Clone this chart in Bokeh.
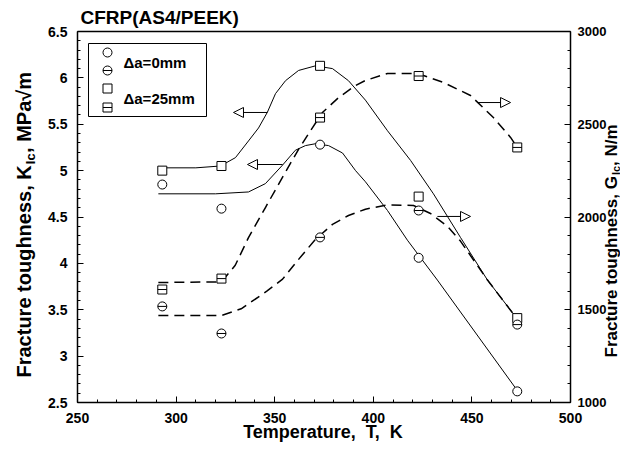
import math
from bokeh.plotting import figure
from bokeh.models import (Range1d, LinearAxis, SingleIntervalTicker, FixedTicker, NumeralTickFormatter,
                          Label, Arrow, NormalHead, BoxAnnotation)
from bokeh.embed import file_html
from bokeh.resources import INLINE

# ---------------- data ----------------
temperature = [293, 323, 373, 423, 473]
kic_0mm = [4.85, 4.59, 5.28, 4.06, 2.62]
kic_25mm = [5.00, 5.05, 6.13, 4.72, 3.41]
gic_0mm = [1518, 1372, 1890, 2035, 1420]
gic_25mm = [1609, 1668, 2536, 2760, 2375]

# fitted curves
kic25_fit_T = [291, 310, 322.5, 330.1, 336.7, 341.8, 346.3, 350.4, 355.5, 362.1, 370.7, 379.3,
               387.4, 396.0, 407.2, 418.9, 430.5, 444.2, 457.9, 473]
kic25_fit_K = [5.03, 5.03, 5.05, 5.14, 5.32, 5.46, 5.63, 5.83, 5.97, 6.08, 6.13, 6.10,
               5.97, 5.76, 5.43, 5.11, 4.75, 4.28, 3.82, 3.40]
kic0_fit_T = [291, 320, 336.7, 345.3, 354.0, 360.5, 365.6, 370.7, 377.3, 384.4, 391.0, 396.0,
              407.2, 417.3, 432.5, 473]
kic0_fit_K = [4.75, 4.75, 4.77, 4.86, 5.06, 5.22, 5.27, 5.29, 5.27, 5.19, 5.00, 4.88,
              4.57, 4.25, 3.82, 2.63]
g25_fit_T = [291, 323, 330, 336.7, 345.3, 354, 362.1, 369.2, 374.2, 382.4, 391, 396, 407.2,
             422.4, 435.6, 449.3, 460.9, 469.6, 473]
g25_fit_G = [1647, 1650, 1740, 1889, 2051, 2215, 2365, 2482, 2563, 2644, 2709, 2736, 2774,
             2774, 2725, 2655, 2536, 2429, 2375]
g0_fit_T = [291, 323, 333, 346, 354, 362, 370.7, 379.3, 387.4, 396, 407.2, 420.4, 429,
            437.6, 444.2, 457.9, 473]
g0_fit_G = [1469, 1469, 1505, 1600, 1665, 1770, 1880, 1960, 2008, 2042, 2065, 2062, 2019,
            1950, 1870, 1660, 1450]

legend_labels = ["\u0394a=0mm", "\u0394a=25mm"]

FONT = "Liberation Sans"
W, H = 620, 443
NB = "\u00a0"

# ---- layout: axes box in canvas pixels (frame covers the whole canvas) ----
T_MIN, T_MAX, K_MIN, K_MAX, G_MIN, G_MAX = 250, 500, 2.5, 6.5, 1000, 3000
BOX_L, BOX_R, BOX_T, BOX_B = 77, 570, 31, 402

def X(px):
    return T_MIN + (px - BOX_L) * (T_MAX - T_MIN) / (BOX_R - BOX_L)

def Y(py):
    return K_MAX - (py - BOX_T) * (K_MAX - K_MIN) / (BOX_B - BOX_T)

def YG(py):
    return G_MAX - (py - BOX_T) * (G_MAX - G_MIN) / (BOX_B - BOX_T)

p = figure(width=W, height=H, title=None, x_axis_type=None, y_axis_type=None,
           x_range=Range1d(X(0), X(W)), y_range=Range1d(Y(H), Y(0)),
           output_backend="svg", toolbar_location=None,
           min_border_left=0, min_border_right=0, min_border_top=0, min_border_bottom=0)
p.extra_y_ranges = {"G": Range1d(YG(H), YG(0))}
p.outline_line_color = None
p.background_fill_color = "white"
p.border_fill_color = "white"

xaxis = LinearAxis(fixed_location=K_MIN, bounds=(T_MIN, T_MAX),
                   ticker=SingleIntervalTicker(interval=50, num_minor_ticks=5))
yaxis = LinearAxis(fixed_location=T_MIN, bounds=(K_MIN, K_MAX),
                   ticker=SingleIntervalTicker(interval=0.5, num_minor_ticks=5),
                   formatter=NumeralTickFormatter(format="0.[0]"))
raxis = LinearAxis(y_range_name="G", fixed_location=T_MAX, bounds=(G_MIN, G_MAX),
                   ticker=SingleIntervalTicker(interval=500, num_minor_ticks=5),
                   formatter=NumeralTickFormatter(format="0"))
taxis = LinearAxis(fixed_location=K_MAX, bounds=(T_MIN, T_MAX), ticker=FixedTicker(ticks=[]))

p.add_layout(xaxis, "below")
p.add_layout(yaxis, "left")
p.add_layout(raxis, "right")
p.add_layout(taxis, "above")

for ax in [xaxis, yaxis, raxis, taxis]:
    ax.major_tick_in = 6
    ax.major_tick_out = 0
    ax.minor_tick_in = 3
    ax.minor_tick_out = 0
    ax.axis_line_width = 1.5
    ax.axis_line_color = "black"
    ax.major_tick_line_color = "black"
    ax.minor_tick_line_color = "black"
    ax.major_label_text_font = FONT
    ax.major_label_text_font_style = "bold"
    ax.major_label_text_font_size = "14px"
    ax.major_label_text_color = "black"
    ax.major_label_standoff = 10
raxis.major_label_standoff = 7
raxis.major_label_text_font_size = "13px"

# ---------------- curves ----------------
p.line(kic25_fit_T, kic25_fit_K, line_color="black", line_width=1)
p.line(kic0_fit_T, kic0_fit_K, line_color="black", line_width=1)
p.line(g25_fit_T, g25_fit_G, line_color="black", line_width=1.5, line_dash="10 6", y_range_name="G")
p.line(g0_fit_T, g0_fit_G, line_color="black", line_width=1.5, line_dash="10 6", y_range_name="G")

# ---------------- points ----------------
MS = 9
p.scatter(temperature, kic_0mm, marker="circle", size=MS, fill_color="white", line_color="black")
p.scatter(temperature, kic_25mm, marker="square", size=MS, fill_color="white", line_color="black")
p.scatter(temperature, gic_0mm, marker="circle", size=MS, fill_color="white", line_color="black", y_range_name="G")
p.scatter(temperature, gic_0mm, marker="dash", size=MS, line_color="black", y_range_name="G")
p.scatter(temperature, gic_25mm, marker="square", size=MS, fill_color="white", line_color="black", y_range_name="G")
p.scatter(temperature, gic_25mm, marker="dash", size=MS, line_color="black", y_range_name="G")

# ---------------- arrows ----------------
def arrow(x0, x1, y, rng="default"):
    p.add_layout(Arrow(x_start=x0, y_start=y, x_end=x1, y_end=y, line_width=1, line_color="black",
                       y_range_name=rng,
                       end=NormalHead(size=10, fill_color="white", line_color="black", line_width=1)))

arrow(346.3, 329.1, 5.627)
arrow(354.0, 336.2, 5.066)
arrow(452.8, 469.6, 2617, "G")
arrow(432.5, 449.3, 2003, "G")

# ---------------- legend ----------------
p.add_layout(BoxAnnotation(left=X(88), right=X(206), top=Y(43), bottom=Y(116),
                           fill_alpha=0, line_color="black", line_width=1, line_alpha=1))
lx = X(107)
p.scatter([lx], [Y(52)], marker="circle", size=MS, fill_color="white", line_color="black")
p.scatter([lx], [Y(70)], marker="circle", size=MS, fill_color="white", line_color="black")
p.scatter([lx], [Y(70)], marker="dash", size=MS, line_color="black")
p.scatter([lx], [Y(88)], marker="square", size=MS, fill_color="white", line_color="black")
p.scatter([lx], [Y(107)], marker="square", size=MS, fill_color="white", line_color="black")
p.scatter([lx], [Y(107)], marker="dash", size=MS, line_color="black")

def text(px, py, s, size, angle=0.0, align="left"):
    p.add_layout(Label(x=X(px), y=Y(py), text=s, text_font=FONT, text_font_style="bold",
                       text_font_size=size, text_color="black", angle=angle,
                       text_align=align, text_baseline="middle"))

text(123, 62, legend_labels[0], "15px")
text(123, 98, legend_labels[1], "15px")

# ---------------- title / axis labels ----------------
text(80, 16.5, "CFRP(AS4/PEEK)", "19px")
text(322.5, 431.5, "Temperature," + NB + " T," + NB + " K", "18px", align="center")

up = math.pi / 2
text(23, 377, "Fracture toughness, K", "20px", angle=up)
text(29.5, 163.7, "Ic", "13px", angle=up)
text(23, 152.4, ", MPa\u221am", "20px", angle=up)

text(611, 357, "Fracture toughness, G", "17px", angle=up)
text(615, 174.6, "Ic", "11px", angle=up)
text(611, 165.4, ", N/m", "17px", angle=up)

open("out.html", "w").write(file_html(p, INLINE))
